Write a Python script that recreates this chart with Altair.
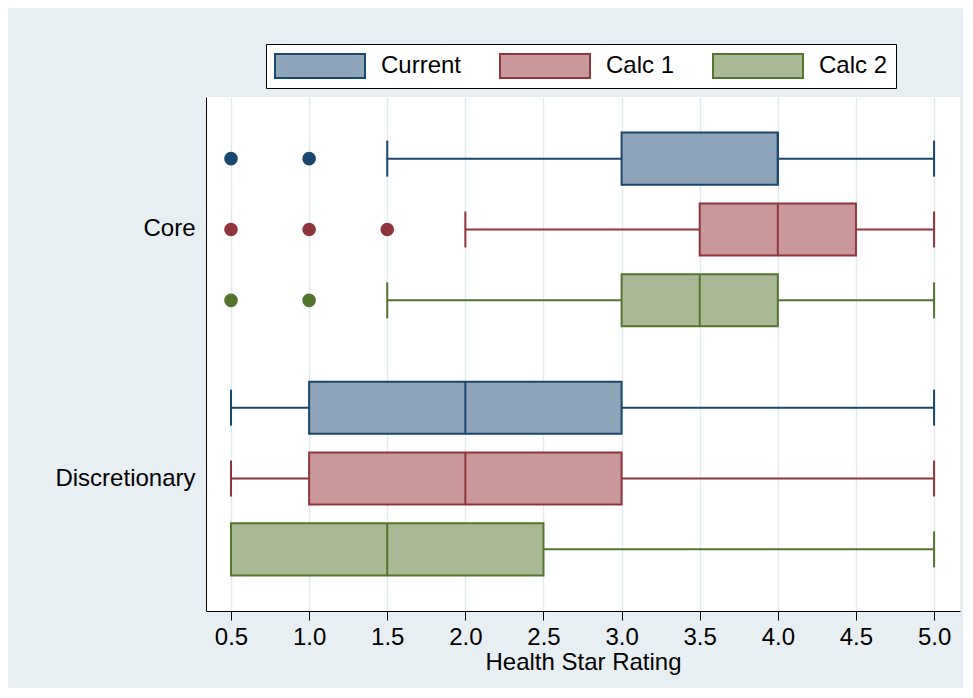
import altair as alt
import pandas as pd

# ---- data ----
groups = ["Core", "Core", "Core", "Discretionary", "Discretionary", "Discretionary"]
series = ["Current", "Calc 1", "Calc 2", "Current", "Calc 1", "Calc 2"]
whisker_lo = [1.5, 2.0, 1.5, 0.5, 0.5, 0.5]
q1 = [3.0, 3.5, 3.0, 1.0, 1.0, 0.5]
median = [4.0, 4.0, 3.5, 2.0, 2.0, 1.5]
q3 = [4.0, 4.5, 4.0, 3.0, 3.0, 2.5]
whisker_hi = [5.0, 5.0, 5.0, 5.0, 5.0, 5.0]

out_group = ["Core", "Core", "Core", "Core", "Core", "Core", "Core"]
out_series = ["Current", "Current", "Calc 1", "Calc 1", "Calc 1", "Calc 2", "Calc 2"]
out_value = [0.5, 1.0, 0.5, 1.0, 1.5, 0.5, 1.0]

series_order = ["Current", "Calc 1", "Calc 2"]
group_order = ["Core", "Discretionary"]
line_colors = ["#1a476f", "#90353b", "#55752f"]
fill_colors = ["#8da4b9", "#c9989b", "#aab995"]
x_ticks = [0.5, 1.0, 1.5, 2.0, 2.5, 3.0, 3.5, 4.0, 4.5, 5.0]

boxes = pd.DataFrame({"group": groups, "series": series, "lo": whisker_lo,
                      "q1": q1, "med": median, "q3": q3, "hi": whisker_hi})
outliers = pd.DataFrame({"group": out_group, "series": out_series, "value": out_value})

FONT = "Liberation Sans"

xscale = alt.Scale(domain=[0.34, 5.166], nice=False, zero=False)
yscale = alt.Scale(domain=group_order, paddingInner=0, paddingOuter=0.032)
yoff_scale = alt.Scale(domain=series_order, paddingInner=0.265, paddingOuter=0.39)

x_axis = alt.Axis(values=x_ticks, format=".1f", title="Health Star Rating",
                  grid=True, gridColor="#e3ebee", gridWidth=1.5,
                  tickSize=9, tickColor="black", domainColor="black",
                  labelFontSize=24, labelFont=FONT, labelColor="black", labelPadding=5,
                  titleFontSize=24, titleFont=FONT, titleColor="black",
                  titleFontWeight="normal", titlePadding=1)
y_axis = alt.Axis(title=None, ticks=False, domainColor="black", grid=False,
                  labelFontSize=24, labelFont=FONT, labelColor="black", labelPadding=11)

Y = alt.Y("group:N", scale=yscale, axis=y_axis, sort=group_order)
YO = alt.YOffset("series:N", scale=yoff_scale, sort=series_order)
# line-colour scale for whiskers/medians/outliers (domain listed in reverse so its
# disabled legend is not merged with the box legend)
line_color = alt.Color("series:N",
                       scale=alt.Scale(domain=series_order[::-1], range=line_colors[::-1]),
                       legend=None)

base = alt.Chart(boxes)

whisk_left = base.mark_rule(strokeWidth=2).encode(
    x=alt.X("lo:Q", scale=xscale, axis=x_axis), x2="q1:Q", y=Y, yOffset=YO, color=line_color)
whisk_right = base.mark_rule(strokeWidth=2).encode(
    x=alt.X("q3:Q", scale=xscale, axis=x_axis), x2="hi:Q", y=Y, yOffset=YO, color=line_color)

legend = alt.Legend(title=None, orient="none", legendX=60, legendY=-53, direction="horizontal",
                    symbolType="M-1,-0.267L1,-0.267L1,0.267L-1,0.267Z", symbolSize=8100,
                    symbolStrokeWidth=2, symbolOpacity=1, clipHeight=28,
                    labelFontSize=24, labelFont=FONT, labelColor="black", labelOffset=15,
                    columnPadding=37, padding=8,
                    strokeColor="black", fillColor="white")

box = base.mark_bar(strokeWidth=2, opacity=1).encode(
    x=alt.X("q1:Q", scale=xscale, axis=x_axis), x2="q3:Q", y=Y, yOffset=YO,
    fill=alt.Fill("series:N", scale=alt.Scale(domain=series_order, range=fill_colors),
                  legend=legend, sort=series_order),
    stroke=alt.Stroke("series:N", scale=alt.Scale(domain=series_order, range=line_colors),
                      legend=legend, sort=series_order))

med_tick = base.mark_tick(size=52, thickness=2, opacity=1).encode(
    x=alt.X("med:Q", scale=xscale, axis=x_axis), y=Y, yOffset=YO, color=line_color)
cap_lo = base.mark_tick(size=36, thickness=2, opacity=1).encode(
    x=alt.X("lo:Q", scale=xscale, axis=x_axis), y=Y, yOffset=YO, color=line_color)
cap_hi = base.mark_tick(size=36, thickness=2, opacity=1).encode(
    x=alt.X("hi:Q", scale=xscale, axis=x_axis), y=Y, yOffset=YO, color=line_color)

pts = alt.Chart(outliers).mark_circle(size=185, opacity=1).encode(
    x=alt.X("value:Q", scale=xscale, axis=x_axis), y=Y, yOffset=YO, color=line_color)

chart = alt.layer(whisk_left, whisk_right, box, med_tick, cap_lo, cap_hi, pts).properties(
    width=754, height=514,
    background="#e8eff2",
    padding={"left": 198, "top": 89, "right": 3, "bottom": 77},
    autosize=alt.AutoSizeParams(type="none"),
).configure_view(fill="white", stroke=None).configure_axis(domainWidth=1)

chart.save("out.html", embed_options={"renderer": "svg", "actions": False})
